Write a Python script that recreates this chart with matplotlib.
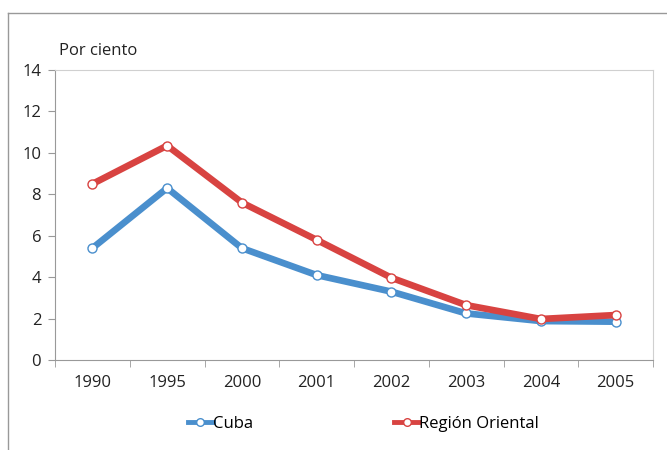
import numpy as np
import matplotlib
matplotlib.use('agg')
import matplotlib.pyplot as plt
from matplotlib.lines import Line2D

years = ['1990', '1995', '2000', '2001', '2002', '2003', '2004', '2005']
cuba = [5.4, 8.3, 5.4, 4.1, 3.3, 2.25, 1.88, 1.85]
oriental = [8.5, 10.35, 7.6, 5.8, 3.97, 2.65, 1.98, 2.17]
yticks = [0, 2, 4, 6, 8, 10, 12, 14]

plt.rcParams.update({
    'font.family': ['Open Sans', 'DejaVu Sans'],
    'font.size': 12,
})

fig = plt.figure(figsize=(6.67, 4.5), dpi=100)
ax = fig.add_axes([0.0825, 0.2, 0.8965, 0.6444])

x = np.arange(len(years))
ax.plot(x, cuba, color='#4a8fcd', lw=4.8, marker='o', ms=6.5,
        mfc='white', mec='#4a8fcd', mew=1.0, label='Cuba', zorder=3)
ax.plot(x, oriental, color='#d84341', lw=4.8, marker='o', ms=6.5,
        mfc='white', mec='#d84341', mew=1.0, label='Región Oriental', zorder=3)

ax.set_xlim(-0.5, len(years) - 0.5)
ax.set_ylim(0, 14)
ax.set_yticks(yticks)
ax.set_xticks(x)
ax.set_xticklabels(years)
ax.set_xticks(np.arange(-0.5, len(years)), minor=True)
ax.tick_params(axis='x', which='major', length=0, pad=11, colors='#222222')
ax.tick_params(axis='x', which='minor', length=5, color='#999999')
ax.tick_params(axis='y', length=5, color='#999999', colors='#222222', pad=5)

for s in ['left', 'bottom']:
    ax.spines[s].set_color('#999999')
for s in ['top', 'right']:
    ax.spines[s].set_color('#d0d0d0')

fig.text(0.089, 0.878, 'Por ciento', fontsize=12, color='#222222')

leg = fig.legend(loc='center', bbox_to_anchor=(0.545, 0.058), ncol=2,
                 frameon=False, handlelength=1.5, handletextpad=0.0,
                 columnspacing=8.5, fontsize=12)
for h in leg.legend_handles:
    h.set_linewidth(3.5)
    h.set_markersize(5.5)

# outer frame
fig.add_artist(Line2D([8 / 667, 1], [1 - 13 / 450, 1 - 13 / 450],
                      transform=fig.transFigure, color='#999999', lw=1))
fig.add_artist(Line2D([8 / 667, 8 / 667], [0, 1 - 13 / 450],
                      transform=fig.transFigure, color='#999999', lw=1))

fig.savefig('out.png', dpi=100)
